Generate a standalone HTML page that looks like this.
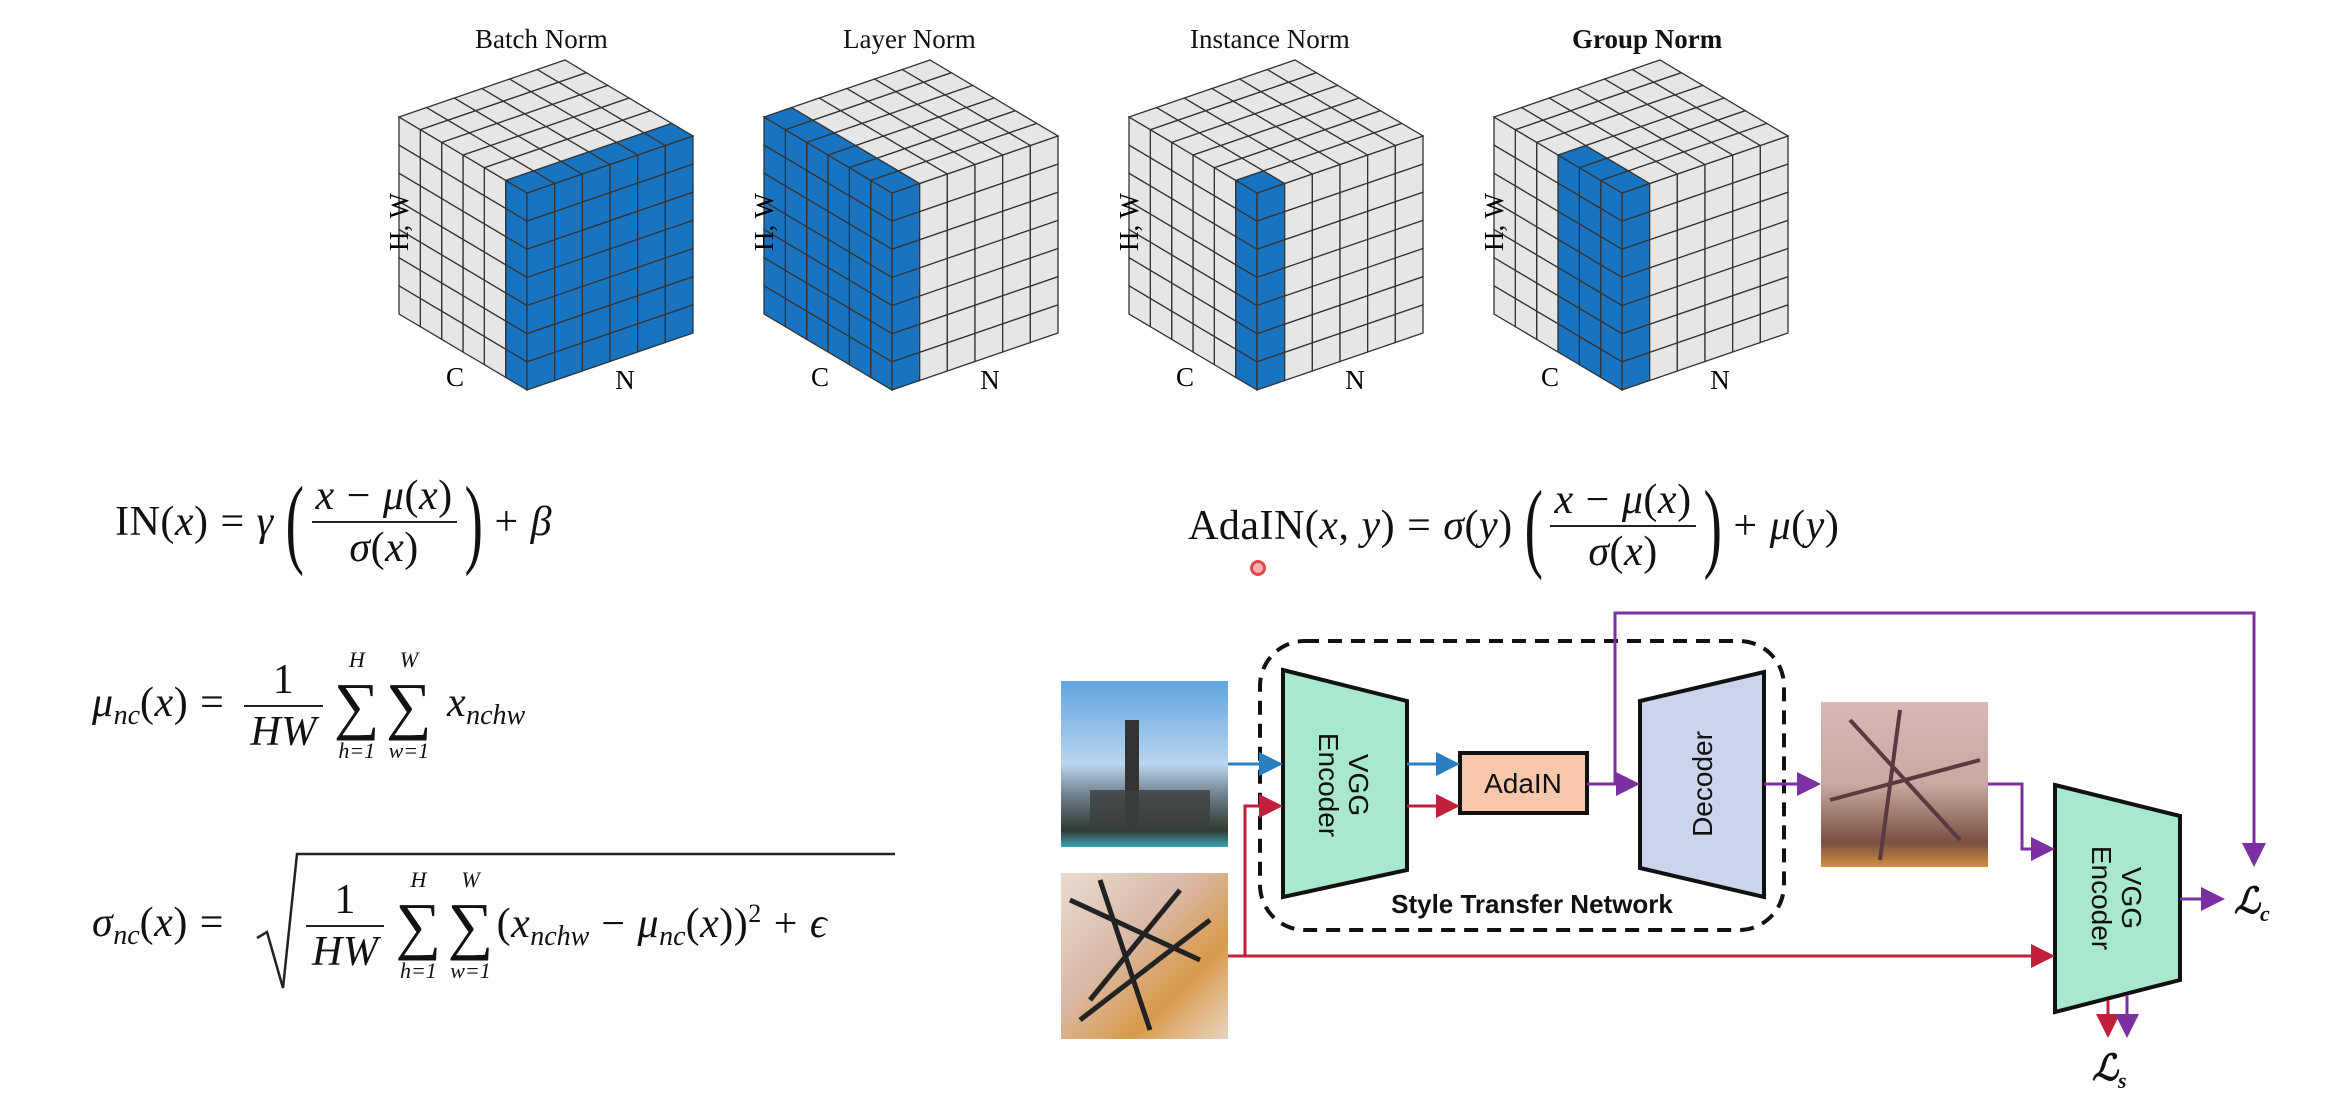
<!DOCTYPE html>
<html><head><meta charset="utf-8">
<style>
body{margin:0;width:2338px;height:1096px;background:#fff;position:relative;overflow:hidden;font-family:"Liberation Serif",serif;}
.a{position:absolute;white-space:nowrap;line-height:1;color:#111;}
.t{font-size:27px;}
.f{position:absolute;display:flex;align-items:center;font-family:"Liberation Serif",serif;font-size:42px;letter-spacing:0.5px;word-spacing:1px;color:#111;white-space:nowrap;line-height:1;}
.i{font-style:italic;}
.fr{display:inline-flex;flex-direction:column;align-items:center;margin:0 8px;}
.fr .n{padding:0 4px 4px;}
.fr .d{border-top:2px solid #222;padding:4px 6px 0;align-self:stretch;text-align:center;}
.bp{font-size:100px;transform:scaleX(0.55);display:inline-block;margin:0 -8px;font-weight:100;}
.sm{display:inline-flex;flex-direction:column;align-items:center;margin:0 3px;}
.sm .lim{font-size:22px;font-style:italic;line-height:1.1;letter-spacing:0;}
.sm .sg{font-size:64px;line-height:1.05;}
sub{font-size:28px;font-style:italic;vertical-align:-8px;letter-spacing:0;}
</style></head><body>
<svg id="cubes" width="2338" height="1096" style="position:absolute;left:0;top:0"></svg>

<div class="a t" style="left:475px;top:26px">Batch Norm</div>
<div class="a t" style="left:843px;top:26px">Layer Norm</div>
<div class="a t" style="left:1190px;top:26px">Instance Norm</div>
<div class="a t" style="left:1572px;top:26px;font-weight:bold">Group Norm</div>

<div class="f" style="left:115px;top:472px">
<span>IN(<span class="i">x</span>) = <span class="i">γ</span>&nbsp;</span><span class="bp">(</span>
<span class="fr"><span class="n"><span class="i">x</span> − <span class="i">μ</span>(<span class="i">x</span>)</span><span class="d"><span class="i">σ</span>(<span class="i">x</span>)</span></span>
<span class="bp">)</span><span>&nbsp;+ <span class="i">β</span></span>
</div>

<div class="f" style="left:92px;top:648px">
<span><span class="i">μ</span><sub>nc</sub>(<span class="i">x</span>) =&nbsp;</span>
<span class="fr"><span class="n">1</span><span class="d i">HW</span></span>
<span class="sm"><span class="lim">H</span><span class="sg">∑</span><span class="lim">h=1</span></span>
<span class="sm"><span class="lim">W</span><span class="sg">∑</span><span class="lim">w=1</span></span>
<span>&nbsp;<span class="i">x</span><sub>nchw</sub></span>
</div>

<div class="f" style="left:92px;top:868px">
<span><span class="i">σ</span><sub>nc</sub>(<span class="i">x</span>) =&nbsp;</span>
<span style="width:62px;flex:none"></span>
<span class="fr"><span class="n">1</span><span class="d i">HW</span></span>
<span class="sm"><span class="lim">H</span><span class="sg">∑</span><span class="lim">h=1</span></span>
<span class="sm"><span class="lim">W</span><span class="sg">∑</span><span class="lim">w=1</span></span>
<span>(<span class="i">x</span><sub>nchw</sub> − <span class="i">μ</span><sub>nc</sub>(<span class="i">x</span>))<sup style="font-size:26px">2</sup> + <span class="i">ϵ</span></span>
</div>
<svg class="a" style="left:255px;top:850px" width="660" height="140"><polyline points="2,88 12,82 28,138 42,4 640,4" fill="none" stroke="#222" stroke-width="2.5"/></svg>

<div class="f" style="left:1188px;top:476px">
<span>AdaIN(<span class="i">x</span>, <span class="i">y</span>) = <span class="i">σ</span>(<span class="i">y</span>)&nbsp;</span><span class="bp">(</span>
<span class="fr"><span class="n"><span class="i">x</span> − <span class="i">μ</span>(<span class="i">x</span>)</span><span class="d"><span class="i">σ</span>(<span class="i">x</span>)</span></span>
<span class="bp">)</span><span>&nbsp;+ <span class="i">μ</span>(<span class="i">y</span>)</span>
</div>
<div class="a" style="left:1250px;top:560px;width:10px;height:10px;border-radius:50%;border:3px solid #e04848;background:#f7b0b0"></div>

<svg class="a" style="left:0;top:0" width="2338" height="1096">
<defs>
<marker id="ab" markerWidth="8" markerHeight="8" refX="7" refY="4" orient="auto"><path d="M0,0L8,4L0,8z" fill="#2b7fc0"/></marker>
<marker id="ar" markerWidth="8" markerHeight="8" refX="7" refY="4" orient="auto"><path d="M0,0L8,4L0,8z" fill="#c0203a"/></marker>
<marker id="ap" markerWidth="8" markerHeight="8" refX="7" refY="4" orient="auto"><path d="M0,0L8,4L0,8z" fill="#7b2fa0"/></marker>
<linearGradient id="sky" x1="0" y1="0" x2="0" y2="1"><stop offset="0" stop-color="#5fa5e0"/><stop offset="0.5" stop-color="#b9d6ee"/><stop offset="0.7" stop-color="#6c7a88"/><stop offset="0.9" stop-color="#2f3a2e"/><stop offset="1" stop-color="#3aa3b8"/></linearGradient>
<linearGradient id="sty" x1="0" y1="0" x2="1" y2="1"><stop offset="0" stop-color="#e8dcd0"/><stop offset="0.4" stop-color="#d9b9a8"/><stop offset="0.7" stop-color="#d89a4a"/><stop offset="1" stop-color="#e9d4c0"/></linearGradient>
<linearGradient id="out" x1="0" y1="0" x2="0" y2="1"><stop offset="0" stop-color="#d8b8b8"/><stop offset="0.5" stop-color="#c9a8a0"/><stop offset="0.85" stop-color="#7a5040"/><stop offset="1" stop-color="#d09040"/></linearGradient>
</defs>
<rect x="1061" y="681" width="167" height="166" fill="url(#sky)"/>
<rect x="1125" y="720" width="14" height="110" fill="#333"/>
<rect x="1090" y="790" width="120" height="40" fill="#3b3f3f" opacity="0.8"/>
<rect x="1061" y="873" width="167" height="166" fill="url(#sty)"/>
<path d="M1070,900L1200,960M1100,880L1150,1030M1180,890L1090,1000M1210,920L1080,1020" stroke="#222" stroke-width="5" fill="none"/>
<rect x="1821" y="702" width="167" height="165" fill="url(#out)"/>
<path d="M1850,720L1960,840M1900,710L1880,860M1830,800L1980,760" stroke="#5a3a40" stroke-width="4" fill="none"/>

<rect x="1260" y="641" width="524" height="289" rx="45" fill="none" stroke="#111" stroke-width="4" stroke-dasharray="14,9"/>
<polygon points="1283,670 1407,701 1407,870 1283,897" fill="#a8e8cc" stroke="#111" stroke-width="4"/>
<rect x="1460" y="753" width="127" height="60" fill="#f6c7ab" stroke="#111" stroke-width="4"/>
<polygon points="1640,701 1764,672 1764,897 1640,868" fill="#cbd4ea" stroke="#111" stroke-width="4"/>
<polygon points="2055,785 2180,816 2180,980 2055,1012" fill="#a8e8cc" stroke="#111" stroke-width="4"/>

<g stroke-width="3" fill="none">
<line x1="1228" y1="764" x2="1280" y2="764" stroke="#2b7fc0" marker-end="url(#ab)"/>
<line x1="1407" y1="764" x2="1457" y2="764" stroke="#2b7fc0" marker-end="url(#ab)"/>
<line x1="1407" y1="806" x2="1457" y2="806" stroke="#c0203a" marker-end="url(#ar)"/>
<polyline points="1228,956 1245,956 1245,806 1280,806" stroke="#c0203a" marker-end="url(#ar)"/>
<line x1="1245" y1="956" x2="2052" y2="956" stroke="#c0203a" marker-end="url(#ar)"/>
<line x1="1587" y1="784" x2="1637" y2="784" stroke="#7b2fa0" marker-end="url(#ap)"/>
<polyline points="1615,784 1615,613 2254,613 2254,864" stroke="#7b2fa0" marker-end="url(#ap)"/>
<line x1="1764" y1="784" x2="1818" y2="784" stroke="#7b2fa0" marker-end="url(#ap)"/>
<polyline points="1988,784 2022,784 2022,849 2052,849" stroke="#7b2fa0" marker-end="url(#ap)"/>
<line x1="2180" y1="899" x2="2222" y2="899" stroke="#7b2fa0" marker-end="url(#ap)"/>
<line x1="2108" y1="1000" x2="2108" y2="1035" stroke="#c0203a" marker-end="url(#ar)"/>
<line x1="2127" y1="995" x2="2127" y2="1035" stroke="#7b2fa0" marker-end="url(#ap)"/>
</g>
<text x="1345" y="785" transform="rotate(90 1345 785)" text-anchor="middle" font-family="Liberation Sans" font-size="28" fill="#111"><tspan x="1345" dy="-4">VGG</tspan><tspan x="1345" dy="30">Encoder</tspan></text>
<text x="1523" y="793" text-anchor="middle" font-family="Liberation Sans" font-size="28" fill="#111">AdaIN</text>
<text x="1712" y="784" transform="rotate(-90 1712 784)" text-anchor="middle" font-family="Liberation Sans" font-size="28" fill="#111">Decoder</text>
<text x="2118" y="898" transform="rotate(90 2118 898)" text-anchor="middle" font-family="Liberation Sans" font-size="28" fill="#111"><tspan x="2118" dy="-4">VGG</tspan><tspan x="2118" dy="30">Encoder</tspan></text>
<text x="1532" y="913" text-anchor="middle" font-family="Liberation Sans" font-weight="bold" font-size="26" fill="#111">Style Transfer Network</text>
<text x="2234" y="913" font-family="Liberation Serif" font-style="italic" font-size="36" font-weight="bold" fill="#111">ℒ<tspan font-size="22" dy="8">c</tspan></text>
<text x="2092" y="1080" font-family="Liberation Serif" font-style="italic" font-size="36" font-weight="bold" fill="#111">ℒ<tspan font-size="22" dy="8">s</tspan></text>
</svg>

<script>
const cubeNames=['batch','layer','instance','group'];
const cubeX=[527,892,1257,1622];
const svg=document.getElementById('cubes');
const NS='http://www.w3.org/2000/svg';
const cv=[-128/6,-76/6], nv=[166/6,-57/6], hv=[0,197/7];
function hl(k,n,c){
 if(k===0) return c===0;
 if(k===1) return n===0;
 if(k===2) return n===0&&c===0;
 return n===0&&c<3;
}
function quad(p,a,b,fill,name){
 const pts=[p,[p[0]+a[0],p[1]+a[1]],[p[0]+a[0]+b[0],p[1]+a[1]+b[1]],[p[0]+b[0],p[1]+b[1]]];
 const q=document.createElementNS(NS,'polygon');
 q.setAttribute('points',pts.map(v=>v.join(',')).join(' '));
 q.setAttribute('fill',fill);q.setAttribute('stroke','#333');q.setAttribute('stroke-width','1.3');
 
 
 svg.appendChild(q);
}
const B='#1874c1',G='#e6e6e6';
cubeNames.forEach((nm,k)=>{
 const F=[cubeX[k],193];
 for(let c=0;c<6;c++)for(let j=0;j<7;j++)
  quad([F[0]+c*cv[0],F[1]+c*cv[1]+j*hv[1]],cv,hv,hl(k,0,c)?B:G,nm+'-cube-cell');
 for(let n=0;n<6;n++)for(let j=0;j<7;j++)
  quad([F[0]+n*nv[0],F[1]+n*nv[1]+j*hv[1]],nv,hv,hl(k,n,0)?B:G,nm+'-cube-cell');
 for(let c=0;c<6;c++)for(let n=0;n<6;n++)
  quad([F[0]+c*cv[0]+n*nv[0],F[1]+c*cv[1]+n*nv[1]],cv,nv,hl(k,n,c)?B:G,nm+'-cube-cell');
 const lbl=(t,x,y,r,name)=>{const e=document.createElementNS(NS,'text');e.textContent=t;
  e.setAttribute('x',x);e.setAttribute('y',y);e.setAttribute('font-family','Liberation Serif');e.setAttribute('font-size','27');e.setAttribute('text-anchor','middle');
  if(r)e.setAttribute('transform','rotate(-90 '+x+' '+y+')');
  
  
  svg.appendChild(e);};
 lbl('H, W',F[0]-119,222,true,nm+'-hw-label');
 lbl('C',F[0]-72,386,false,nm+'-c-label');
 lbl('N',F[0]+98,389,false,nm+'-n-label');
});
</script>
</body></html>
